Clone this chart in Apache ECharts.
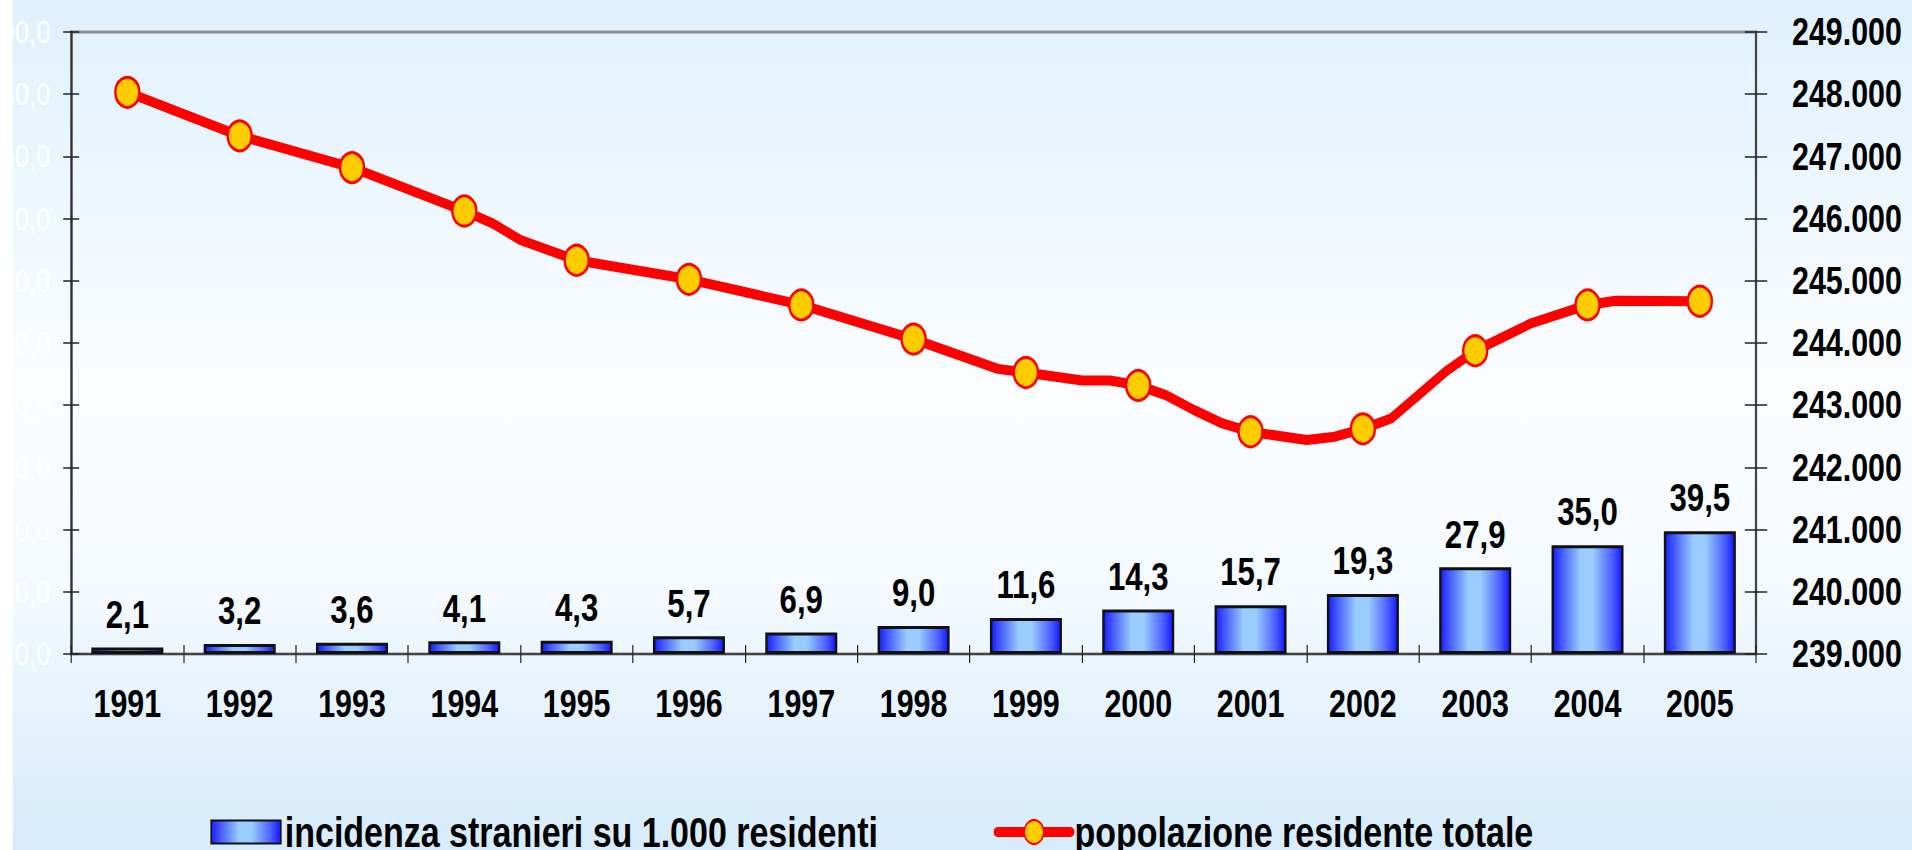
<!DOCTYPE html>
<html>
<head>
<meta charset="utf-8">
<script src="https://cdn.jsdelivr.net/npm/echarts@6/dist/echarts.min.js"></script>
<style>
  html, body { margin: 0; padding: 0; background: #ffffff; overflow: hidden; }
  #frame { width: 1912px; height: 850px; overflow: hidden; position: relative; }
  /* The chart is laid out wide and condensed horizontally, giving tall narrow type and oval markers */
  #chart { width: 2390px; height: 850px; transform: scaleX(0.8); transform-origin: 0 0; }
</style>
</head>
<body>
<div id="frame"><div id="chart"></div></div>
<script>
// Years on the category axis
const anni = ['1991', '1992', '1993', '1994', '1995', '1996', '1997', '1998',
              '1999', '2000', '2001', '2002', '2003', '2004', '2005'];

// Foreign residents per 1,000 inhabitants (bars, left axis)
const incidenza = [2.1, 3.2, 3.6, 4.1, 4.3, 5.7, 6.9, 9.0, 11.6, 14.3, 15.7, 19.3, 27.9, 35.0, 39.5];

// Total resident population at each year (line markers, right axis)
const popolazione = [248030, 247330, 246820, 246122, 245330, 245024, 244612, 244063,
                     243525, 243318, 242573, 242620, 243875, 244612, 244671];

// Quarterly readings between yearly values: [year, quarter after it, population]
const popolazioneTrimestrale = [
  ['1994', 1, 245924], ['1994', 2, 245656],
  ['1998', 3, 243584],
  ['1999', 2, 243398], ['1999', 3, 243398],
  ['2000', 1, 243158], ['2000', 2, 242919], ['2000', 3, 242706],
  ['2001', 2, 242440], ['2001', 3, 242493],
  ['2002', 1, 242786], ['2002', 3, 243558],
  ['2003', 2, 244318],
  ['2004', 1, 244680]
];

// Axis tick values and labels
const tickSinistra = [0, 20, 40, 60, 80, 100, 120, 140, 160, 180, 200];
const etichetteSinistra = ['0,0', '20,0', '40,0', '60,0', '80,0', '100,0', '120,0', '140,0', '160,0', '180,0', '200,0'];
const tickDestra = [239000, 240000, 241000, 242000, 243000, 244000, 245000, 246000, 247000, 248000, 249000];
const etichetteDestra = ['239.000', '240.000', '241.000', '242.000', '243.000', '244.000',
                         '245.000', '246.000', '247.000', '248.000', '249.000'];

const nomeBarre = 'incidenza stranieri su 1.000 residenti';
const nomeLinea = 'popolazione residente totale';

const FONT = '"Liberation Sans", Arial, Helvetica, sans-serif';

const virgola = v => v.toFixed(1).replace('.', ',');

// Line vertices: yearly points with markers, quarterly points without
const puntiLinea = popolazione.map((v, i) => ({ value: [i, v] }))
  .concat(popolazioneTrimestrale.map(([a, q, v]) => ({
    value: [anni.indexOf(a) + q / 4, v],
    symbol: 'none'
  })))
  .sort((a, b) => a.value[0] - b.value[0]);

const gradienteBarre = {
  type: 'linear', x: 0, y: 0, x2: 1, y2: 0,
  colorStops: [
    { offset: 0, color: '#1a1aff' },
    { offset: 0.12, color: '#3f55ff' },
    { offset: 0.4, color: '#99ccff' },
    { offset: 0.58, color: '#99ccff' },
    { offset: 0.86, color: '#4a5eff' },
    { offset: 1, color: '#1414ff' }
  ]
};

const chart = echarts.init(document.getElementById('chart'), null, { renderer: 'svg' });

const stepS = tickSinistra[1] - tickSinistra[0];
const stepD = tickDestra[1] - tickDestra[0];

const ticchetta = (len, inside) => ({ show: true, inside, length: len, lineStyle: { color: '#222', width: 1.5 } });
const testoLegenda = { fontFamily: FONT, fontWeight: 'bold', fontSize: 42.5, color: '#000', lineHeight: 48 };

chart.setOption({
  animation: false,
  backgroundColor: {
    type: 'linear', x: 0, y: 0, x2: 0, y2: 1,
    colorStops: [
      { offset: 0, color: '#dff1fd' },
      { offset: 0.45, color: '#fbfdff' },
      { offset: 0.68, color: '#f5faff' },
      { offset: 1, color: '#d6ebfb' }
    ]
  },
  graphic: [{
    type: 'rect', left: 0, top: 0, z: -1,
    shape: { width: 16, height: 850 },
    style: { fill: '#ffffff' }
  }],
  grid: {
    left: 89, right: 195, top: 32, bottom: 196,
    containLabel: false, outerBoundsMode: 'none',
    show: true, borderColor: '#8c8c8c', borderWidth: 3, backgroundColor: 'transparent'
  },
  legend: [{
    data: [{ name: nomeBarre, icon: 'rect' }],
    left: 258, top: 803,
    itemWidth: 87, itemHeight: 23,
    textStyle: testoLegenda
  }, {
    data: [nomeLinea],
    left: 1237, top: 803,
    itemWidth: 91, itemHeight: 30,
    lineStyle: { width: 10, cap: 'round' },
    textStyle: testoLegenda
  }],
  xAxis: [{
    type: 'category', data: anni, position: 'bottom',
    axisLine: { onZero: false, lineStyle: { color: '#444', width: 2 } },
    axisTick: ticchetta(9, false),
    axisLabel: { interval: 0, fontFamily: FONT, fontWeight: 'bold', fontSize: 38, color: '#000', margin: 31 }
  }, {
    type: 'value', min: -0.5, max: 14.5, show: false,
    axisLine: { show: false, onZero: false }
  }, {
    type: 'category', data: anni, position: 'bottom',
    axisLine: { show: false, onZero: false },
    axisTick: ticchetta(9, true),
    axisLabel: { show: false }
  }],
  yAxis: [{
    type: 'value', position: 'left',
    min: tickSinistra[0], max: tickSinistra[tickSinistra.length - 1], interval: stepS,
    splitLine: { show: false },
    axisLine: { show: true, onZero: false, lineStyle: { color: '#333', width: 2.5 } },
    axisTick: ticchetta(10, false),
    axisLabel: {
      fontFamily: FONT, fontSize: 32, color: '#ffffff', margin: 26,
      formatter: v => etichetteSinistra[tickSinistra.indexOf(v)]
    }
  }, {
    type: 'value', position: 'right',
    min: tickDestra[0], max: tickDestra[tickDestra.length - 1], interval: stepD,
    splitLine: { show: false },
    axisLine: { show: true, onZero: false, lineStyle: { color: '#333', width: 2 } },
    axisTick: ticchetta(14, false),
    axisLabel: {
      fontFamily: FONT, fontWeight: 'bold', fontSize: 38, color: '#000', margin: 45,
      formatter: v => etichetteDestra[tickDestra.indexOf(v)]
    }
  }, {
    type: 'value', position: 'left',
    min: tickSinistra[0], max: tickSinistra[tickSinistra.length - 1], interval: stepS,
    splitLine: { show: false }, axisLine: { show: false, onZero: false }, axisLabel: { show: false },
    axisTick: ticchetta(10, true)
  }, {
    type: 'value', position: 'right',
    min: tickDestra[0], max: tickDestra[tickDestra.length - 1], interval: stepD,
    splitLine: { show: false }, axisLine: { show: false, onZero: false }, axisLabel: { show: false },
    axisTick: ticchetta(14, true)
  }],
  series: [{
    name: nomeBarre,
    type: 'bar',
    xAxisIndex: 0, yAxisIndex: 0,
    data: incidenza,
    barWidth: 90,
    itemStyle: { color: gradienteBarre, borderColor: '#111', borderWidth: 3 },
    label: {
      show: true, position: 'top', distance: 14,
      fontFamily: FONT, fontWeight: 'bold', fontSize: 39, color: '#000',
      formatter: p => virgola(p.value)
    },
    z: 2
  }, {
    name: nomeLinea,
    type: 'line',
    xAxisIndex: 1, yAxisIndex: 1,
    data: puntiLinea,
    color: '#ff0000',
    symbol: 'circle',
    symbolSize: 30,
    lineStyle: { color: '#ff0000', width: 10, join: 'round', cap: 'round' },
    itemStyle: { color: '#ffcc00', borderColor: '#ff0000', borderWidth: 3 },
    z: 3
  }]
});
</script>
</body>
</html>
